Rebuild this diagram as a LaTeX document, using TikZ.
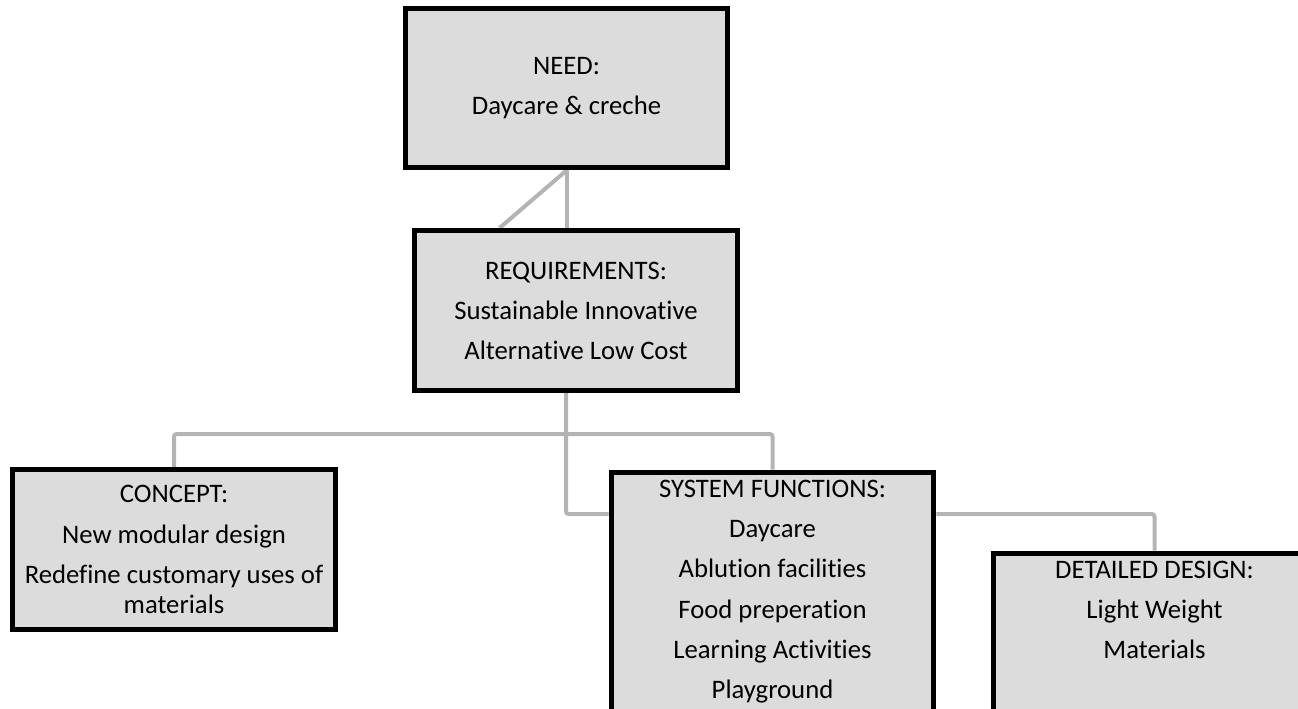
\documentclass[tikz,border=0pt]{standalone}
\usepackage{fontspec}
\setmainfont{Carlito}[Ligatures=NoCommon]
\usetikzlibrary{backgrounds}
\definecolor{boxgray}{HTML}{DCDCDC}
\definecolor{linkgray}{HTML}{B4B4B4}
\tikzset{box/.style={draw=black,line width=0.1cm,fill=boxgray,
    minimum width=6.46cm,minimum height=3.2cm,align=center,
    font=\fontsize{15.2}{22.8}\selectfont},
  tallbox/.style={box,anchor=north,text depth=6cm,inner ysep=0.17cm},
  link/.style={draw=linkgray,line width=0.08cm,rounded corners=1.5pt}}

\begin{document}
\begin{tikzpicture}[x=0.02cm,y=-0.02cm]
  \useasboundingbox (0,0) rectangle (1298,709);
  \clip (0,0) rectangle (1298,709);
  \node[box] (need) at (566.5,88) {NEED:\\Daycare \& creche};
  \node[box] (req) at (576,310.5)
    {REQUIREMENTS:\\Sustainable Innovative\\Alternative Low Cost};
  \node[box] (concept) at (174,549.5) {CONCEPT:\\New modular design\\
    Redefine customary uses of\\[-0.2cm]materials};
  \node[tallbox] (sf) at (772.5,469.5) {SYSTEM FUNCTIONS:\\Daycare\\
    Ablution facilities\\Food preperation\\Learning Activities\\Playground};
  \node[tallbox] (dd) at (1154.5,550.5) {DETAILED DESIGN:\\Light Weight\\Materials};
  \coordinate (split) at (566,434);
  \coordinate (bend) at (566,514);
  \begin{pgfonlayer}{background}
    \draw[link] (need.south) -- (need.south |- req.north);
    \draw[link] (need.south) -- ([xshift=1.75cm]req.north west);
    \draw[link] (split |- req.south) -- (bend) -- (bend -| sf.west);
    \draw[link] (concept.north) |- (split) -| (sf.north);
    \draw[link] (bend -| sf.east) -| (dd.north);
  \end{pgfonlayer}
\end{tikzpicture}
\end{document}
